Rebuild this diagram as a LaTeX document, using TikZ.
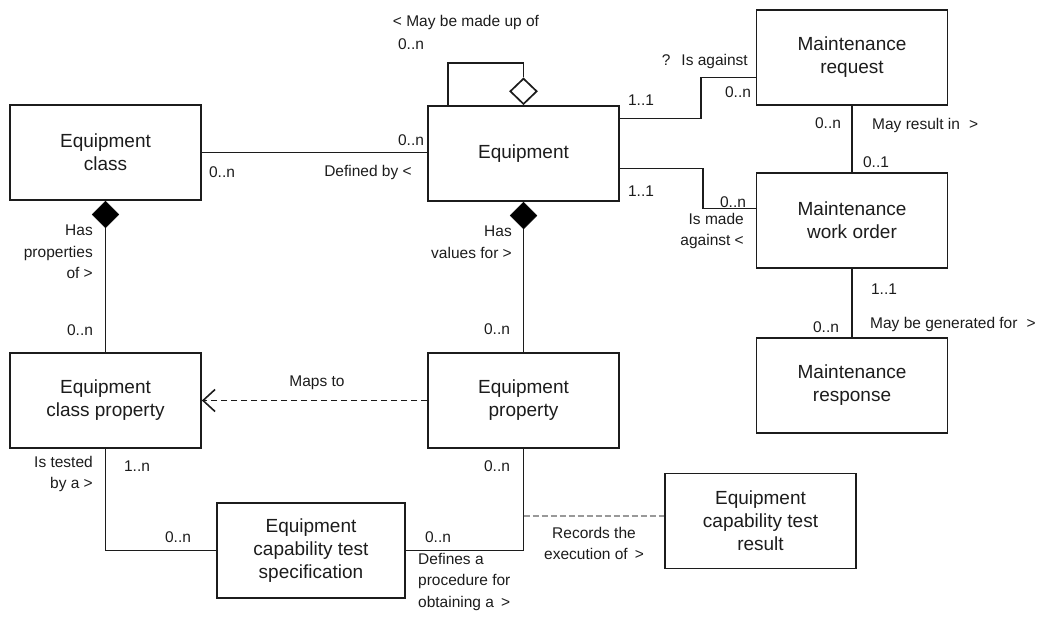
\documentclass[tikz,border=0pt]{standalone}
\usepackage{fontspec}
\setmainfont{Liberation Sans}
\usetikzlibrary{shapes.geometric,arrows.meta}
\definecolor{ink}{HTML}{1C1C1C}
\tikzset{
  box/.style={draw=ink, line width=1.7pt, rectangle, minimum width=191pt, minimum height=95pt,
    align=center, text=ink, font=\fontsize{19}{23}\selectfont, inner sep=2pt},
  lbl/.style={text=ink, font=\fontsize{15.5}{21.5}\selectfont, inner sep=0pt},
  conn/.style={draw=ink, line width=1.7pt},
  fdia/.style={diamond, fill=black, draw=black, inner sep=0pt, minimum width=27pt, minimum height=27pt},
  hdia/.style={diamond, fill=white, draw=ink, line width=1.7pt, inner sep=0pt, minimum width=27pt, minimum height=26pt},
}
\begin{document}
\begin{tikzpicture}[x=1pt, y=-1pt]
\useasboundingbox (0,0) rectangle (1061,617);

% classes
\node[box] (eqc) at (105.5,152.5) {Equipment\\class};
\node[box] (eq)  at (523.5,153.5) {Equipment};
\node[box] (mr)  at (852,57.5) {Maintenance\\request};
\node[box] (mwo) at (852,220.5) {Maintenance\\work order};
\node[box] (mrs) at (852,385.5) {Maintenance\\response};
\node[box] (ecp) at (105.5,400.5) {Equipment\\class property};
\node[box] (ep)  at (523.5,400.5) {Equipment\\property};
\node[box, minimum width=188pt] (spec) at (311,550.5) {Equipment\\capability test\\specification};
\node[box] (res) at (760.5,521) {Equipment\\capability test\\result};

% aggregation / composition markers
\node[hdia, anchor=south] (eqd) at (eq.north) {};
\node[fdia, anchor=north] (eqcd) at (eqc.south) {};
\node[fdia, anchor=north] (eqpd) at (eq.south) {};

% self association of Equipment
\coordinate (loopL) at (448,63);
\coordinate (loopR) at (523.5,63);
\draw[conn] (eq.north -| loopL) -- (loopL) -- (loopR) -- (eqd.north);

% associations
\draw[conn] (eqc.east) -- (eq.west |- eqc.east);
\draw[conn] ([yshift=35pt]eq.east) -- ++(81,0) |- ([yshift=-20pt]mr.west);
\draw[conn] ([yshift=-15pt]eq.east) -- ++(83,0) |- ([yshift=12pt]mwo.west);
\draw[conn] (mr.south) -- (mwo.north);
\draw[conn] (mwo.south) -- (mrs.north);
\draw[conn] (eqcd.south) -- (ecp.north);
\draw[conn] (eqpd.south) -- (ep.north);
\draw[conn] (ecp.south) |- (spec.west);
\draw[conn] (ep.south) |- (spec.east);
\draw[conn, dash pattern=on 6pt off 4pt, -{Straight Barb[length=12pt,width=22pt,line width=1.6pt]}] (ep.west) -- (ecp.east);

% dependency to the test result
\coordinate (rec) at (523.5,516);
\draw[draw=gray!80, line width=1.6pt, dash pattern=on 6pt off 3pt] (rec) -- (rec -| res.west);

% role and multiplicity labels
\node[lbl] (l1) at (466,22) {< May be made up of};
\node[lbl] (l2) at (411,44) {0..n};
\node[lbl, anchor=east] (l3) at (748,61) {?\hspace{11pt}Is against};
\node[lbl] (l4) at (738,92) {0..n};
\node[lbl] (l5) at (641,100) {1..1};
\node[lbl] (l6) at (411,140) {0..n};
\node[lbl] (l7) at (222,172) {0..n};
\node[lbl] (l8) at (368,172) {Defined by <};
\node[lbl] (l9) at (641,191) {1..1};
\node[lbl] (l10) at (733,202) {0..n};
\node[lbl, anchor=north east, align=right] (l11) at (744,213) {Is made\\against <};
\node[lbl] (l12) at (828,123) {0..n};
\node[lbl, anchor=west] (l13) at (872,125) {May result in\hspace{9pt}>};
\node[lbl] (l14) at (876,162) {0..1};
\node[lbl] (l15) at (884,289) {1..1};
\node[lbl, anchor=west] (l16) at (870,324) {May be generated for\hspace{9pt}>};
\node[lbl] (l17) at (826,327) {0..n};
\node[lbl, anchor=north east, align=right] (l18) at (93,225) {Has\\properties\\of >};
\node[lbl] (l19) at (80,330) {0..n};
\node[lbl, anchor=north east, align=right] (l20) at (512,226) {Has\\values for >};
\node[lbl] (l21) at (497,329) {0..n};
\node[lbl] (l22) at (317,383) {Maps to};
\node[lbl, anchor=north east, align=right] (l23) at (93,456) {Is tested\\by a >};
\node[lbl] (l24) at (137,466) {1..n};
\node[lbl] (l25) at (178,537) {0..n};
\node[lbl] (l26) at (497,466) {0..n};
\node[lbl] (l27) at (438,537) {0..n};
\node[lbl, anchor=north west, align=left] (l28) at (418,553) {Defines a\\procedure for\\obtaining a\hspace{7pt}>};
\node[lbl, anchor=north, align=center] (l29) at (594,527) {Records the\\execution of\hspace{7pt}>};
\end{tikzpicture}
\end{document}
